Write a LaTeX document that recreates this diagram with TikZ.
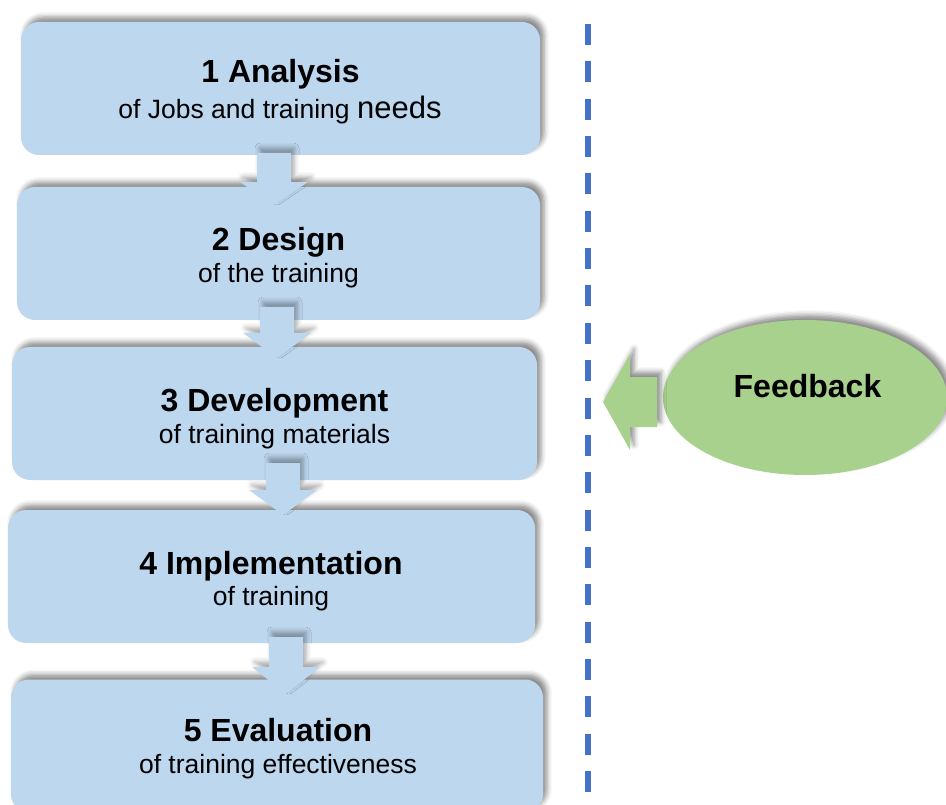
\documentclass[tikz,border=0pt]{standalone}
\usepackage{fontspec}
\setmainfont{Liberation Sans}
\usetikzlibrary{shadows.blur, shapes.geometric}

\definecolor{stepblue}{HTML}{BDD7EE}
\definecolor{fbgreen}{HTML}{A9D18E}
\definecolor{dashblue}{HTML}{4472C4}

\tikzset{
  softshadow/.style={blur shadow={shadow xshift=4pt, shadow yshift=5pt,
      shadow blur radius=5pt, shadow opacity=45}},
  lightshadow/.style={blur shadow={shadow xshift=3pt, shadow yshift=5pt,
      shadow blur radius=5pt, shadow opacity=35}},
  stagebox/.style={rectangle, rounded corners=18pt, fill=stepblue,
      softshadow, inner sep=0pt, minimum height=133pt},
  stagetitle/.style={anchor=base, inner sep=0pt,
      font=\fontsize{32}{38}\selectfont\bfseries},
  stagesub/.style={anchor=base, inner sep=0pt,
      font=\fontsize{26.5}{31}\selectfont},
  fbbubble/.style={ellipse, fill=fbgreen, softshadow, inner sep=0pt},
  separator/.style={dashblue, line width=6pt, dash pattern=on 21pt off 16.35pt},
  pics/downarrow/.style 2 args={code={
    \fill[stepblue, lightshadow] (-17,0) -- (17,0) -- (17,#1) -- (34,#1)
      -- (0,#2) -- (-34,#1) -- (-17,#1) -- cycle;
  }},
}

\begin{document}
\begin{tikzpicture}[x=1pt, y=-1pt]
  \useasboundingbox (0,0) rectangle (946,805);

  % dashed separator
  \coordinate (sepTop) at (587.5,24);
  \coordinate (sepBot) at (587.5,792);
  \draw[separator] (sepTop) -- (sepBot);

  % stage boxes
  \node[stagebox, minimum width=519pt] (b1) at (280.5,88.5) {};
  \node[stagebox, minimum width=523pt] (b2) at (278.5,253.5) {};
  \node[stagebox, minimum width=525pt] (b3) at (274.5,413.5) {};
  \node[stagebox, minimum width=527pt] (b4) at (271.5,576.5) {};
  \node[stagebox, minimum width=532pt] (b5) at (277,746) {};

  % block arrows between stages
  \pic at (274,153) {downarrow={29}{52}};
  \pic at (277,307) {downarrow={26}{51}};
  \pic at (283,463) {downarrow={27}{52}};
  \pic at (286,637) {downarrow={30}{57}};

  % stage texts
  \node[stagetitle] (t1) at (280.5,83) {1 Analysis};
  \node[stagesub] (s1) at (280,119) {of Jobs and training {\fontsize{31}{36}\selectfont needs}};
  \node[stagetitle] (t2) at (278.5,251) {2 Design};
  \node[stagesub] (s2) at (278.5,283) {of the training};
  \node[stagetitle] (t3) at (274.5,411) {3 Development};
  \node[stagesub] (s3) at (274.5,443) {of training materials};
  \node[stagetitle] (t4) at (271,574) {4 Implementation};
  \node[stagesub] (s4) at (271,605) {of training};
  \node[stagetitle] (t5) at (278,741) {5 Evaluation};
  \node[stagesub] (s5) at (278,773) {of training effectiveness};

  % feedback bubble and its arrow
  \node[fbbubble, minimum width=284pt, minimum height=155pt] (fb) at (805,397.5) {};
  \node[stagetitle] (fbt) at (807.5,397) {Feedback};
  \fill[fbgreen, softshadow] (657,377) -- (630,377) -- (630,354) -- (603,402)
    -- (630,450) -- (630,427) -- (657,427) -- cycle;
\end{tikzpicture}
\end{document}
